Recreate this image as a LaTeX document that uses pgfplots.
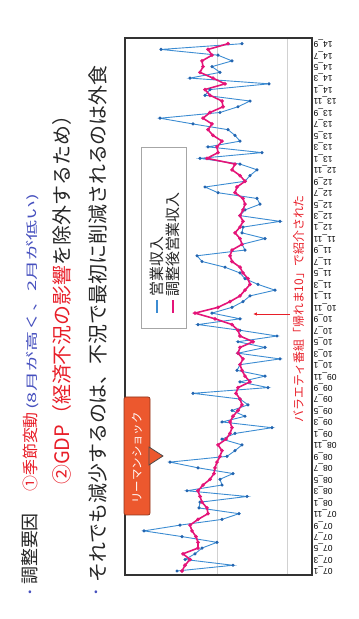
\documentclass[border=0pt]{standalone}
\usepackage{fontspec}
\setmainfont{Noto Sans CJK JP}
\newfontfamily\lab{Liberation Sans}
\usepackage{graphicx}
\usepackage{pgfplots}
\usepackage{pgfplotstable}
\pgfplotsset{compat=1.18}
\usetikzlibrary{arrows.meta}
\definecolor{rawblue}{RGB}{60,140,210}
\definecolor{rawmark}{RGB}{35,100,175}
\definecolor{adjpink}{RGB}{228,20,120}
\definecolor{slred}{RGB}{232,30,40}
\definecolor{slblue}{RGB}{70,80,190}
\definecolor{callout}{RGB}{236,88,46}

% m = month index (0 = 2007/1), raw = operating revenue, adj = adjusted revenue
% (values in the rotated picture's horizontal units)
\pgfplotstableread{
m raw adj
0 177 182
1 233 185
2 185 190
3 195 183
4 202 198
5 217 198
6 182 196
7 144 192
8 180 190
9 222 198
10 239 208
11 199 207
12 200 202
13 247 200
14 187 198
15 222 203
16 220 210
17 233 214
18 198 215
19 170 217
20 227 220
21 235 222
22 242 218
23 222 226
24 235 230
25 272 232
26 222 230
27 245 233
28 232 238
29 248 242
30 240 240
31 193 236
32 268 238
33 240 250
34 265 245
35 237 242
36 240 240
37 280 243
38 238 238
39 265 240
40 238 253
41 277 240
42 240 238
43 198 232
44 240 215
45 212 195
46 232 218
47 243 230
48 250 240
49 275 245
50 258 250
51 245 248
52 240 243
53 225 240
54 202 232
55 197 230
56 245 232
57 242 242
58 265 240
59 242 235
60 243 240
61 280 243
62 240 240
63 245 243
64 260 245
65 257 243
66 218 235
67 205 237
68 245 245
69 250 240
70 257 232
71 240 235
72 200 207
73 262 218
74 208 217
75 240 222
76 235 213
77 228 208
78 193 212
79 160 203
80 220 210
81 238 223
82 250 222
83 205 210
84 210 205
85 269 225
86 190 213
87 220 200
88 212 203
89 232 202
90 218 212
91 161 208
92 242 228
}\data

\begin{document}
\begin{tikzpicture}[x=1bp,y=1bp]
\path[use as bounding box] (0,0) rectangle (358,619);

% ---- slide text (rotated) ----
\node[text=slblue,font=\fontsize{11}{11}\selectfont,inner sep=0] at (30,26) {•};
\node[rotate=90,anchor=base west,inner sep=0,text=black!85,font=\fontsize{18}{18}\selectfont] at (36,34) {調整要因};
\node[rotate=90,anchor=base west,inner sep=0,text=slred,font=\fontsize{16}{16}\selectfont] at (36,127) {①季節変動};
\node[rotate=90,anchor=base west,inner sep=0,text=slblue] at (36,209) {\resizebox{216bp}{\height}{\fontsize{12}{12}\selectfont (8月が高く、2月が低い)}};
\node[rotate=90,anchor=base west,inner sep=0,text=black!85,font=\fontsize{20}{20}\selectfont] at (69,134) {\textcolor{slred}{②GDP（経済不況の影響}を除外するため）};
\node[text=slblue,font=\fontsize{11}{11}\selectfont,inner sep=0] at (96,26) {•};
\node[rotate=90,anchor=base west,inner sep=0,text=black!85,font=\fontsize{20}{20}\selectfont] at (105,36) {それでも減少するのは、不況で最初に削減されるのは外食};

% ---- chart ----
\begin{axis}[
  at={(125bp,44bp)}, anchor=south west,
  scale only axis, width=187bp, height=537bp,
  xmin=125, xmax=312, ymin=-0.7, ymax=93,
  axis line style={draw=black!80, line width=1.3pt},
  xtick={217,287}, xticklabels={,}, xmajorgrids,
  grid style={black!18, line width=0.6pt},
  ytick={0,2,...,92},
  yticklabels={07\_1,07\_3,07\_5,07\_7,07\_9,07\_11,08\_1,08\_3,08\_5,08\_7,08\_9,08\_11,09\_1,09\_3,09\_5,09\_7,09\_9,09\_11,10\_1,10\_3,10\_5,10\_7,10\_9,10\_11,11\_1,11\_3,11\_5,11\_7,11\_9,11\_11,12\_1,12\_3,12\_5,12\_7,12\_9,12\_11,13\_1,13\_3,13\_5,13\_7,13\_9,13\_11,14\_1,14\_3,14\_5,14\_7,14\_9},
  yticklabel pos=right,
  yticklabel style={rotate=180, anchor=east, inner sep=1.5pt, text=black, font=\lab\fontsize{8.5}{8.5}\selectfont},
  major tick length=0pt,
]
\addplot[rawblue, line width=0.9pt, mark=*, mark size=1.1pt, mark options={fill=rawmark, draw=rawmark}] table[x=raw,y=m]{\data};
\addplot[adjpink, line width=1.6pt, mark=*, mark size=0.9pt, mark options={fill=adjpink, draw=adjpink}] table[x=adj,y=m]{\data};
\end{axis}

% ---- legend ----
\draw[black!35, line width=0.6pt, fill=white] (141,291) rectangle (186,472);
\draw[rawblue, line width=1.2pt] (157,306) -- (157,319);
\node[rotate=90,anchor=west,inner sep=0,text=black!85,font=\fontsize{15}{15}\selectfont] at (157,322) {営業収入};
\draw[adjpink, line width=1.7pt] (173,306) -- (173,319);
\node[rotate=90,anchor=west,inner sep=0,text=black!85,font=\fontsize{15}{15}\selectfont] at (173,322) {調整後営業収入};

% ---- Lehman shock callout ----
\draw[fill=callout, draw=callout!60!black, rounded corners=2pt, line width=0.7pt] (124,104) rectangle (150,222);
\draw[fill=callout, draw=black!70, line width=0.8pt] (149,172) -- (163,163) -- (149,154) -- cycle;
\node[rotate=90,text=white,inner sep=0,font=\fontsize{11.5}{11.5}\selectfont] at (137,161) {リーマンショック};

% ---- TV annotation ----
\node[rotate=90,anchor=base west,inner sep=0,text=slred,font=\fontsize{12}{12}\selectfont] at (303,196) {バラエティ番組「帰れま10」で紹介された};
\draw[slred, line width=0.9pt, -{Latex[length=4pt,width=3.5pt]}] (290,305) -- (253,305);
\end{tikzpicture}
\end{document}
